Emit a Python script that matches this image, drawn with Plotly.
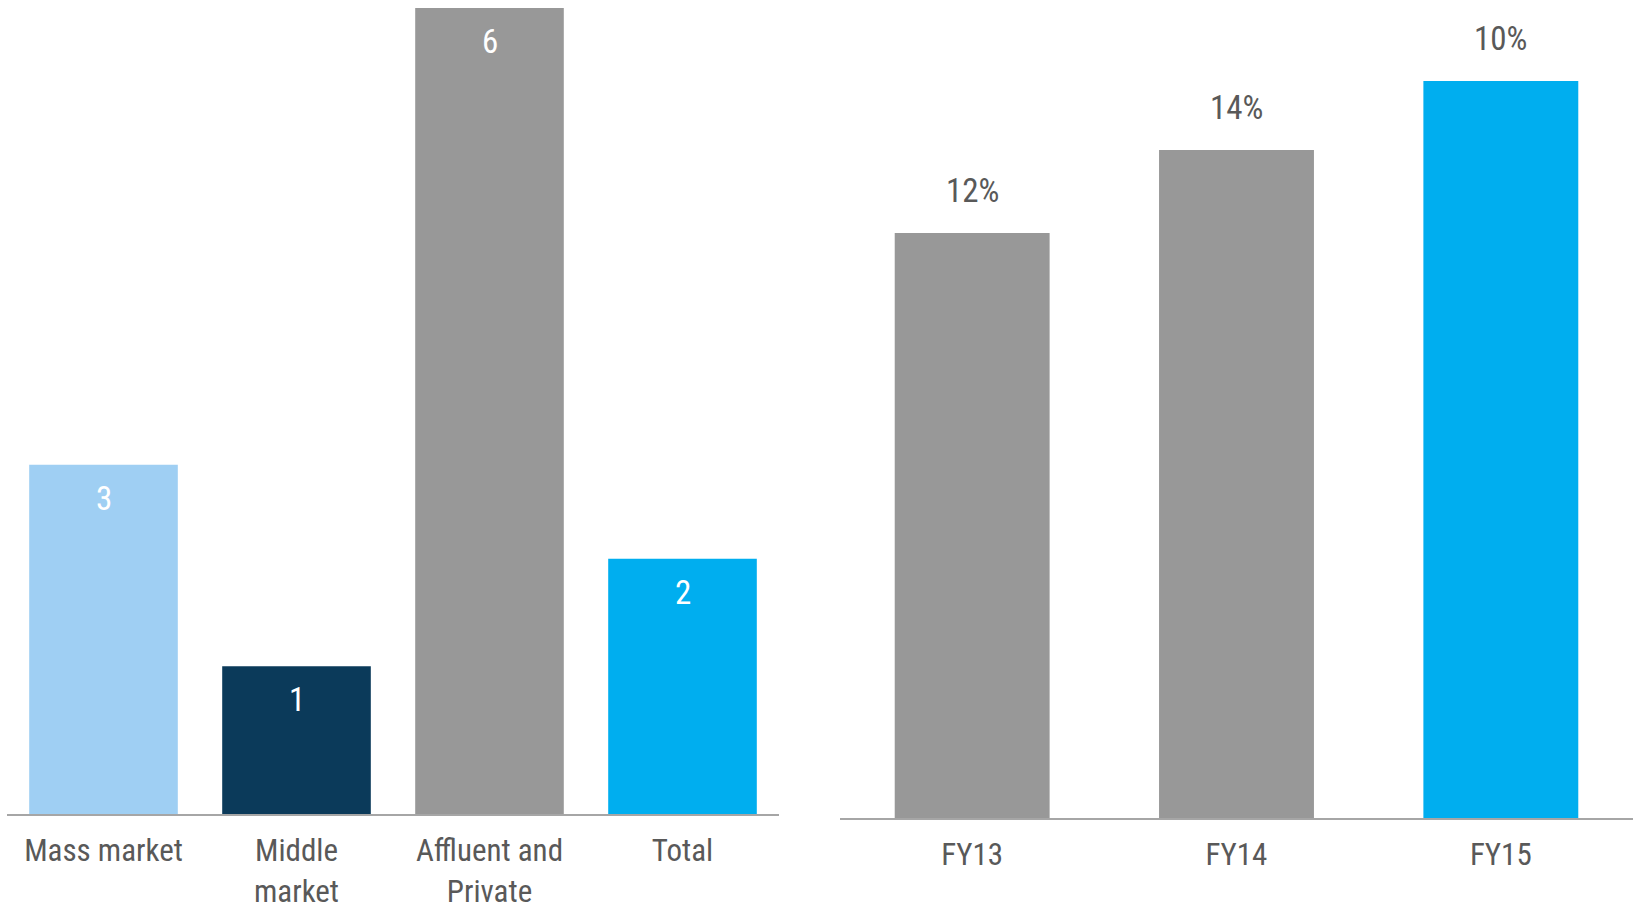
import plotly.graph_objects as go

# Left panel: customer segments
segments = ["Mass market", "Middle<br>market", "Affluent and<br>Private", "Total"]
segment_values = [2.6, 1.1, 6.0, 1.9]
segment_colors = ["#9FCFF3", "#0B3A5A", "#989898", "#00AEEF"]

# Right panel: financial years with growth rates
years = ["FY13", "FY14", "FY15"]
year_values = [5.85, 6.68, 7.37]
growth_labels = ["12%", "14%", "10%"]
year_colors = ["#989898", "#989898", "#00AEEF"]

FONT = "Liberation Sans Narrow, Roboto Condensed, Lato, sans-serif"
TEXT_GREY = "#595959"
W, H = 1637, 912

fig = go.Figure()

fig.add_trace(go.Bar(
    x=segments, y=segment_values, width=0.77,
    marker=dict(color=segment_colors, line=dict(width=0)),
    xaxis="x", yaxis="y", showlegend=False, hoverinfo="skip",
))
fig.add_trace(go.Bar(
    x=years, y=year_values, width=0.586,
    marker=dict(color=year_colors, line=dict(width=0)),
    xaxis="x2", yaxis="y2", showlegend=False, hoverinfo="skip",
))

annotations = []
for cat, v in zip(segments, segment_values):
    annotations.append(dict(
        x=cat, y=v, xref="x", yref="y", text=f"{v:.0f}", showarrow=False,
        yanchor="top", yshift=-12, font=dict(family=FONT, size=33, color="white"),
    ))
for cat, v, lab in zip(years, year_values, growth_labels):
    annotations.append(dict(
        x=cat, y=v, xref="x2", yref="y2", text=lab, showarrow=False,
        yanchor="bottom", yshift=21, font=dict(family=FONT, size=33, color=TEXT_GREY),
    ))

axis_common = dict(
    showline=True, linecolor="#A6A6A6", linewidth=2, showgrid=False, zeroline=False,
    ticks="outside", ticklen=8, tickcolor="rgba(0,0,0,0)", automargin=False,
    tickfont=dict(family=FONT, size=31, color=TEXT_GREY),
)

fig.update_layout(
    width=W, height=H,
    margin=dict(l=0, r=0, t=0, b=0),
    paper_bgcolor="white", plot_bgcolor="white",
    xaxis=dict(domain=[7 / W, 779 / W], range=[-0.5, 3.5], anchor="y", **axis_common),
    yaxis=dict(domain=[98 / H, 904 / H], range=[0, 6.0], visible=False),
    xaxis2=dict(domain=[840 / W, 1633 / W], range=[-0.5, 2.5], anchor="y2", **axis_common),
    yaxis2=dict(domain=[94 / H, 1.0], range=[0, 8.18], visible=False),
    annotations=annotations,
)

fig.write_html("out.html")
